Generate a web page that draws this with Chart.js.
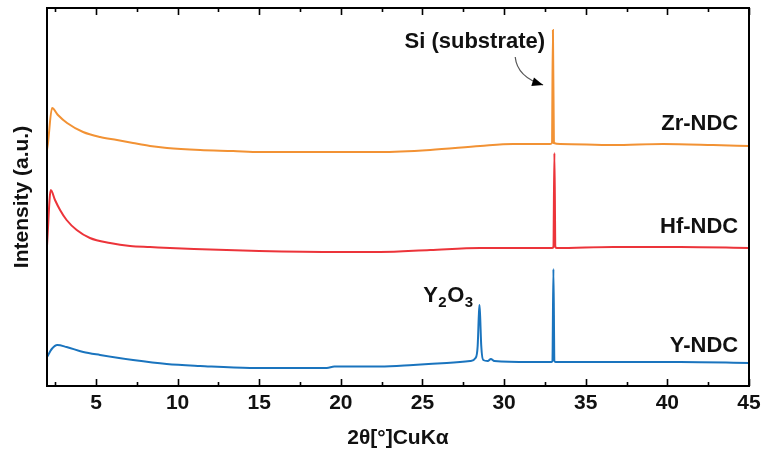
<!DOCTYPE html>
<html>
<head>
<meta charset="utf-8">
<script src="https://cdn.jsdelivr.net/npm/chart.js@4.4.0/dist/chart.umd.min.js"></script>
<style>
html, body { margin: 0; padding: 0; background: #fff; }
</style>
</head>
<body>
<canvas id="xrdChart" width="764" height="457"></canvas>
<script>
var zrTheta = [2.0, 2.06, 2.31, 2.67, 3.23, 4.21, 5.25, 6.29, 7.27, 8.31, 9.35, 11.38, 13.4, 15.05, 18.0, 22.4, 25.47, 28.53, 30.55, 32.82, 32.93, 32.99, 33.05, 33.43, 36.68, 39.75, 42.8, 45.0];
var zrInt   = [236, 243, 278, 271, 263, 254, 249, 246, 243, 240, 238, 236, 235, 234, 234, 234, 236, 240, 242, 242, 243, 356, 243, 242, 241, 242, 241, 240];

var hfTheta = [2.0, 2.02, 2.23, 2.49, 2.8, 3.2, 3.82, 4.63, 5.86, 7.09, 8.31, 11.0, 15.0, 20.0, 22.4, 25.47, 28.53, 31.6, 32.93, 33.02, 33.08, 33.14, 33.23, 36.68, 40.8, 45.0];
var hfInt   = [140, 146, 196, 186, 176, 166, 156, 148, 143, 140, 139, 137, 135, 134, 134, 136, 138, 138, 138, 139, 233, 139, 138, 139, 139, 138];

var yTheta = [2.0, 2.29, 2.63, 3.2, 4.22, 5.25, 7.27, 9.33, 11.38, 14.44, 17.5, 19.14, 19.6, 21.6, 22.4, 24.43, 26.49, 27.92, 28.25, 28.38, 28.45, 28.49, 28.53, 28.6, 28.72, 29.0, 29.19, 29.4, 31.6, 32.9, 32.96, 33.02, 33.08, 33.15, 36.68, 40.8, 45.0];
var yInt   = [29, 37, 41, 39, 34, 31, 26, 22, 20, 18, 18, 18, 19.5, 19.5, 19.5, 21, 23, 25, 28, 40, 70, 81, 70, 40, 26, 25, 27, 25, 24, 24, 25, 117, 25, 24, 24, 24, 23];

var xTicksMajor = [5, 10, 15, 20, 25, 30, 35, 40, 45];
var xTicksMinor = [2.5, 7.5, 12.5, 17.5, 22.5, 27.5, 32.5, 37.5, 42.5];

function puntos(xs, ys) {
    return xs.map(function (v, i) { return { x: v, y: ys[i] }; });
}

// Etiquetas de las muestras (posicion en coordenadas de datos)
var etiquetas = [
    { text: 'Zr-NDC', x: 44.34, y: 256 },
    { text: 'Hf-NDC', x: 44.34, y: 153 },
    { text: 'Y-NDC', x: 44.34, y: 34 },
    { text: 'Si (substrate)', x: 32.51, y: 338 }
];

var familia = '"Liberation Sans", Arial, sans-serif';
var fuenteEtiqueta = 'bold 22px ' + familia;

var anotaciones = {
    id: 'anotaciones',
    afterDatasetsDraw: function (chart) {
        var ctx = chart.ctx, a = chart.chartArea, x = chart.scales.x, y = chart.scales.y;
        ctx.save();

        // Marco y marcas de escala hacia dentro
        ctx.strokeStyle = '#000';
        ctx.lineWidth = 2;
        ctx.strokeRect(a.left, a.top, a.right - a.left, a.bottom - a.top);
        ctx.lineWidth = 1.6;
        ctx.beginPath();
        xTicksMajor.forEach(function (v) {
            var px = Math.round(x.getPixelForValue(v)) + 0.5;
            ctx.moveTo(px, a.bottom); ctx.lineTo(px, a.bottom - 7);
            ctx.moveTo(px, a.top); ctx.lineTo(px, a.top + 7);
        });
        xTicksMinor.forEach(function (v) {
            var px = Math.round(x.getPixelForValue(v)) + 0.5;
            ctx.moveTo(px, a.bottom); ctx.lineTo(px, a.bottom - 4);
            ctx.moveTo(px, a.top); ctx.lineTo(px, a.top + 4);
        });
        ctx.stroke();

        // Textos
        ctx.fillStyle = '#111';
        ctx.font = fuenteEtiqueta;
        ctx.textAlign = 'right';
        ctx.textBaseline = 'alphabetic';
        etiquetas.forEach(function (e) {
            ctx.fillText(e.text, x.getPixelForValue(e.x), y.getPixelForValue(e.y));
        });

        // Y2O3 con subindices
        ctx.textAlign = 'left';
        var px = x.getPixelForValue(25.04), py = y.getPixelForValue(84);
        var partes = [['Y', false], ['2', true], ['O', false], ['3', true]];
        partes.forEach(function (p) {
            ctx.font = p[1] ? 'bold 15px ' + familia : fuenteEtiqueta;
            ctx.fillText(p[0], px, p[1] ? py + 5 : py);
            px += ctx.measureText(p[0]).width + 0.5;
        });

        // Flecha curva hacia el pico del Si
        var x0 = x.getPixelForValue(30.68), y0 = y.getPixelForValue(329);
        var cx = x.getPixelForValue(30.8), cy = y.getPixelForValue(309);
        var x1 = x.getPixelForValue(32.39), y1 = y.getPixelForValue(301);
        ctx.strokeStyle = '#555';
        ctx.lineWidth = 1.2;
        ctx.beginPath();
        ctx.moveTo(x0, y0);
        ctx.quadraticCurveTo(cx, cy, x1, y1);
        ctx.stroke();
        var ang = Math.atan2(y1 - cy, x1 - cx);
        ctx.fillStyle = '#000';
        ctx.beginPath();
        ctx.moveTo(x1, y1);
        ctx.lineTo(x1 - 11 * Math.cos(ang) + 4.5 * Math.sin(ang), y1 - 11 * Math.sin(ang) - 4.5 * Math.cos(ang));
        ctx.lineTo(x1 - 11 * Math.cos(ang) - 4.5 * Math.sin(ang), y1 - 11 * Math.sin(ang) + 4.5 * Math.cos(ang));
        ctx.closePath();
        ctx.fill();

        ctx.restore();
    }
};

function serie(label, xs, ys, color) {
    return {
        label: label,
        data: puntos(xs, ys),
        borderColor: color,
        borderWidth: 2,
        pointRadius: 0,
        cubicInterpolationMode: 'monotone'
    };
}

var ctx = document.getElementById('xrdChart');
new Chart(ctx.getContext('2d'), {
    type: 'line',
    data: {
        datasets: [
            serie('Zr-NDC', zrTheta, zrInt, 'rgb(242, 146, 52)'),
            serie('Hf-NDC', hfTheta, hfInt, 'rgb(236, 52, 58)'),
            serie('Y-NDC', yTheta, yInt, 'rgb(26, 116, 190)')
        ]
    },
    options: {
        responsive: false,
        animation: false,
        layout: { padding: { top: 8, right: 15, bottom: 0, left: 0 } },
        plugins: {
            legend: { display: false },
            tooltip: { enabled: false }
        },
        scales: {
            x: {
                type: 'linear',
                min: 2,
                max: 45,
                afterBuildTicks: function (scale) {
                    scale.ticks = xTicksMajor.map(function (v) { return { value: v }; });
                },
                afterFit: function (scale) {
                    scale.height = 71;
                    scale.paddingLeft = 0;
                    scale.paddingRight = 0;
                },
                grid: { display: false, drawTicks: false },
                border: { display: false },
                ticks: {
                    color: '#111',
                    padding: 5,
                    maxRotation: 0,
                    autoSkip: false,
                    font: { family: familia, size: 21, weight: 'bold' }
                },
                title: {
                    display: true,
                    text: '2θ[°]CuKα',
                    color: '#111',
                    padding: { top: 0, bottom: 6 },
                    font: { family: familia, size: 21, weight: 'bold' }
                }
            },
            y: {
                min: 0,
                max: 378,
                afterFit: function (scale) { scale.width = 47; },
                grid: { display: false, drawTicks: false },
                border: { display: false },
                ticks: { display: false },
                title: {
                    display: true,
                    text: 'Intensity (a.u.)',
                    color: '#111',
                    padding: { top: 10, bottom: 0 },
                    font: { family: familia, size: 21, weight: 'bold' }
                }
            }
        }
    },
    plugins: [anotaciones]
});
</script>
</body>
</html>
